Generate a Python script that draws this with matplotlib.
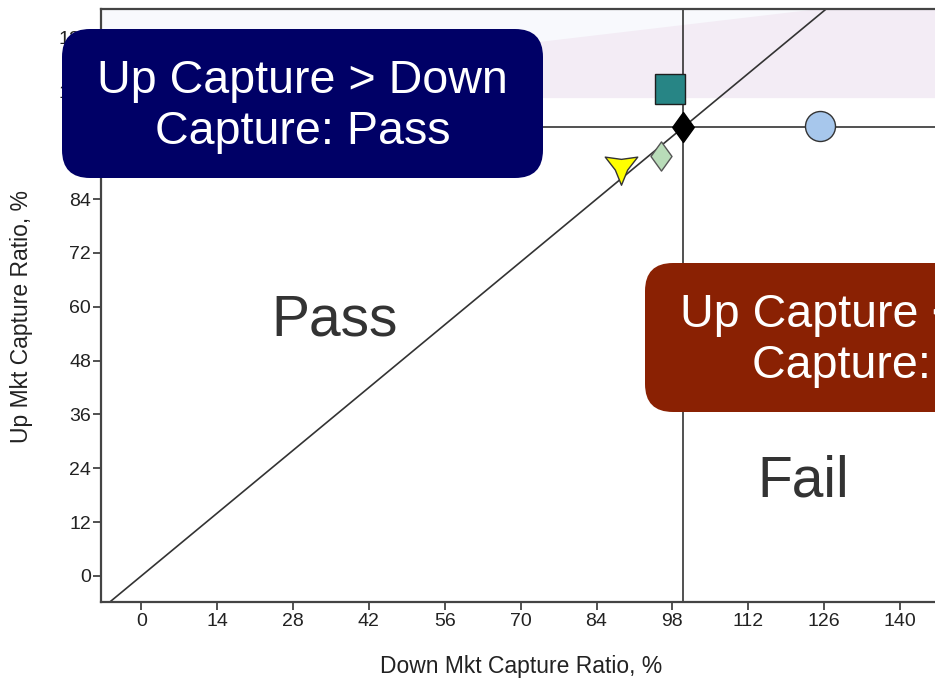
import matplotlib
matplotlib.use("Agg")
import numpy as np
import matplotlib.pyplot as plt
from matplotlib.patches import FancyBboxPatch, Polygon
from matplotlib.path import Path

plt.rcParams['font.family'] = ['Liberation Sans', 'DejaVu Sans']

# ---- data ----
x_ticks = [0, 14, 28, 42, 56, 70, 84, 98, 112, 126, 140]
y_ticks = [0, 12, 24, 36, 48, 60, 72, 84, 96, 108, 120]
ref_down = 100      # vertical reference line
ref_up = 100        # horizontal reference line

down_capture = [97.6, 100.0, 125.2, 95.8, 88.6]
up_capture = [108.5, 100.0, 100.3, 93.7, 91.4]

band_x = [-7.4, 170, 170, 124.6, -7.4]
band_y = [106.5, 106.5, 126.3, 126.3, 107.5]

x_label = "Down Mkt Capture Ratio, %"
y_label = "Up Mkt Capture Ratio, %"
pass_box_text = "Up Capture > Down\nCapture: Pass"
fail_box_text = "Up Capture < Down\nCapture: Fail"

# ---- marker shapes ----
diamond = Path([(0, 1), (0.72, 0), (0, -1), (-0.72, 0), (0, 1)],
               [Path.MOVETO, Path.LINETO, Path.LINETO, Path.LINETO, Path.CLOSEPOLY])

def tristar(inner=0.3):
    verts = []
    for k in range(3):
        a_tip = np.deg2rad(-90 + 120 * k)
        a_in = a_tip + np.deg2rad(60)
        verts.append((np.cos(a_tip), np.sin(a_tip)))
        verts.append((inner * np.cos(a_in), inner * np.sin(a_in)))
    verts.append(verts[0])
    codes = [Path.MOVETO] + [Path.LINETO] * 5 + [Path.CLOSEPOLY]
    return Path(verts, codes)

marker_styles = [
    dict(marker='s', ms=22, mfc='#278585', mec='#1e1e1e'),
    dict(marker=diamond, ms=21.6, mfc='#000000', mec='#000000'),
    dict(marker='o', ms=21.6, mfc='#a7c7ec', mec='#333333'),
    dict(marker=diamond, ms=21, mfc='#b9dcb9', mec='#555555'),
    dict(marker=tristar(0.38), ms=27, mfc='#ffff00', mec='#333333'),
]

fig = plt.figure(figsize=(9.35, 6.82), dpi=100)
ax = fig.add_axes([0.1084, 0.1169, 0.9702, 0.8695])
xmin, xmax = -7.36, 160
ymin, ymax = -5.86, 126.3
ax.set_xlim(xmin, xmax)
ax.set_ylim(ymin, ymax)

# background shading
ax.axhspan(band_y[0], ymax, color='#f8f9fd', lw=0, zorder=0)
ax.add_patch(Polygon(list(zip(band_x, band_y)), closed=True,
                     facecolor='#f3ecf5', edgecolor='none', zorder=0.5))

# reference lines
ax.axline((0, 0), (1, 1), color='#333333', lw=1.2, zorder=2)
ax.axhline(ref_up, color='#333333', lw=1.2, zorder=2)
ax.axvline(ref_down, color='#333333', lw=1.2, zorder=2)

for xd, yu, st in zip(down_capture, up_capture, marker_styles):
    ax.plot([xd], [yu], linestyle='none', mew=1.0, zorder=3, **st)

ax.set_xticks(x_ticks)
ax.set_yticks(y_ticks)
ax.tick_params(axis='both', direction='out', length=5.5, width=1.2,
               color='#333333', labelsize=14, labelcolor='#222222', pad=2)
for s in ['left', 'bottom', 'top', 'right']:
    ax.spines[s].set_color('#444444')
    ax.spines[s].set_linewidth(1.6)

ax.set_xlabel(x_label, fontsize=16.5, color='#222222')
ax.xaxis.set_label_coords((521 - 101.4) / (1008.5 - 101.4), -(667 - 602.3) / 592.9)
ax.xaxis.label.set_va('center')
ax.set_ylabel(y_label, fontsize=16.5, color='#222222')
ax.yaxis.set_label_coords(-(101.4 - 22) / (1008.5 - 101.4), (602.3 - 317) / 592.9)
ax.yaxis.label.set_va('center')

ax.text(35.7, 57, "Pass", fontsize=41, color='#333333', ha='center', va='center', zorder=4)
ax.text(122.1, 21, "Fail", fontsize=41, color='#333333', ha='center', va='center', zorder=4)

# callout boxes (pixel layout)
H = 682
W = 935
def callout(x0, ytop, w, h, fc, text):
    p = FancyBboxPatch((x0, H - ytop - h), w, h,
                       boxstyle='round,pad=0,rounding_size=28',
                       facecolor=fc, edgecolor='none', transform=None, zorder=5)
    fig.patches.append(p)
    fig.text((x0 + w / 2) / W, 1 - (ytop + h / 2 + 3) / H, text, color='white',
             fontsize=33.6, ha='center', va='center', multialignment='center',
             linespacing=1.2, zorder=6)

callout(62, 29, 481, 149, '#000066', pass_box_text)
callout(645, 263, 481, 149, '#8a2103', fail_box_text)

fig.savefig('out.png', dpi=100)
